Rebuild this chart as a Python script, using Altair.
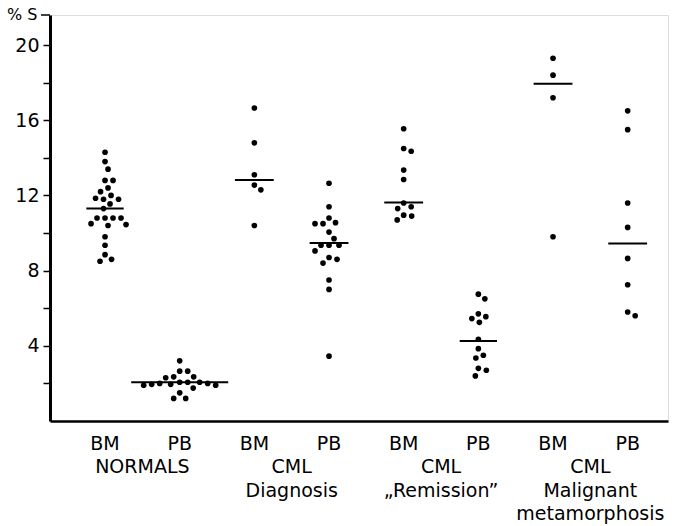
import altair as alt
import pandas as pd

# ---- data (% S) ----
columns = ["NORMALS BM", "NORMALS PB", "Diagnosis BM", "Diagnosis PB",
           "Remission BM", "Remission PB", "Malignant BM", "Malignant PB"]
sub_labels = ["BM", "PB", "BM", "PB", "BM", "PB", "BM", "PB"]
group_labels = ["NORMALS", "CML\nDiagnosis", "CML\n\u201eRemission\u201d", "CML\nMalignant\nmetamorphosis"]

normals_bm = [14.3, 13.8, 13.4, 12.8, 12.8, 12.4, 12.2, 12.0, 11.85, 11.8, 11.8, 11.55, 11.3,
              10.8, 10.8, 10.8, 10.8, 10.5, 10.4, 10.45, 9.8, 9.35, 8.85, 8.5, 8.6]
normals_pb = [3.2, 2.65, 2.65, 2.35, 2.35, 2.3, 2.06, 2.06, 2.06, 2.0, 2.0, 1.95, 1.95,
              1.9, 1.9, 1.9, 1.85, 1.85, 1.85, 1.8, 1.75, 1.7, 1.5, 1.2, 1.2]
diag_bm = [16.65, 14.8, 13.1, 12.55, 12.3, 10.4]
diag_pb = [12.65, 11.4, 10.8, 10.5, 10.55, 10.5, 10.05, 9.7, 9.35, 9.35, 9.35, 9.05,
           8.7, 8.6, 8.4, 7.5, 7.0, 3.45]
rem_bm = [15.55, 14.5, 14.35, 13.35, 12.85, 11.6, 11.4, 11.3, 10.95, 10.9, 10.7]
rem_pb = [6.75, 6.5, 5.7, 5.55, 5.45, 5.25, 4.35, 3.85, 3.5, 3.35, 2.8, 2.7, 2.4]
mal_bm = [19.3, 18.4, 17.2, 9.8]
mal_pb = [16.5, 15.5, 11.6, 10.3, 8.65, 7.25, 5.8, 5.6]

mean_lines = [11.31, 2.06, 12.82, 9.47, 11.63, 4.26, 17.94, 9.45]
mean_halfwidth = [0.25, 0.65, 0.26, 0.26, 0.26, 0.25, 0.26, 0.26]

series = [normals_bm, normals_pb, diag_bm, diag_pb, rem_bm, rem_pb, mal_bm, mal_pb]

# ---- layout ----
W, H = 618, 406
XMIN, XMAX = 0.263, 8.54
YMIN, YMAX = 0.0, 21.6
px_x = W / (XMAX - XMIN)
px_y = H / (YMAX - YMIN)
DOT_D = 8.0  # collision distance in px

# simple beeswarm placement
rows = []
for i, vals in enumerate(series):
    placed = []  # (dx_px, y_px)
    for v in sorted(vals, reverse=True):
        ypx = v * px_y
        cand = [0.0]
        for k in range(1, 80):
            cand += [k * 0.5, -k * 0.5]
        for dx in cand:
            ok = all((dx - px) ** 2 + (ypx - py) ** 2 >= DOT_D ** 2 for px, py in placed)
            if ok:
                placed.append((dx, ypx))
                rows.append({"col": columns[i], "x": i + 1 + dx / px_x, "v": v})
                break
dots = pd.DataFrame(rows)

means = pd.DataFrame({
    "col": columns,
    "x1": [i + 1 - h for i, h in enumerate(mean_halfwidth)],
    "x2": [i + 1 + h for i, h in enumerate(mean_halfwidth)],
    "m": mean_lines,
})

subs = pd.DataFrame({"x": [i + 1 for i in range(8)], "t": sub_labels})
groups = pd.DataFrame({"x": [1.5, 3.5, 5.5, 7.5], "t": group_labels})

FONT = "DejaVu Sans"

xs = alt.Scale(domain=[XMIN, XMAX], nice=False, zero=False)
ys = alt.Scale(domain=[YMIN, YMAX], nice=False, zero=True)

base_x = alt.X("x:Q", scale=xs,
               axis=alt.Axis(title=None, labels=False, ticks=False, grid=False,
                             domainColor="black", domainWidth=2.5))
base_y = alt.Y("v:Q", scale=ys,
               axis=alt.Axis(title=None, values=[2, 4, 6, 8, 10, 12, 14, 16, 18, 20],
                             labelExpr="datum.value % 4 == 0 ? datum.value : ''",
                             grid=False, domainColor="black", domainWidth=3,
                             tickColor="black", tickWidth=1.5, tickSize=7,
                             labelFont=FONT, labelFontSize=19, labelColor="black",
                             labelPadding=4))

pts = alt.Chart(dots).mark_circle(size=32, color="black", opacity=1).encode(
    x=base_x, y=base_y)

rules = alt.Chart(means).mark_rule(color="black", strokeWidth=2).encode(
    x=alt.X("x1:Q", scale=xs), x2="x2:Q", y=alt.Y("m:Q", scale=ys))

sub_txt = alt.Chart(subs).mark_text(font=FONT, fontSize=19, color="black",
                                    baseline="middle", align="center").encode(
    x=alt.X("x:Q", scale=xs), y=alt.value(H + 23), text="t:N")

grp_txt = alt.Chart(groups).mark_text(font=FONT, fontSize=19, color="black",
                                      baseline="top", align="center",
                                      lineBreak="\n", lineHeight=23.5).encode(
    x=alt.X("x:Q", scale=xs), y=alt.value(H + 37), text="t:N")

pct = alt.Chart(pd.DataFrame({"t": ["% S"]})).mark_text(
    font=FONT, fontSize=16, color="black", align="left", baseline="middle").encode(
    x=alt.value(-43), y=alt.value(0), text="t:N")

topext = alt.Chart(pd.DataFrame({"a": [0]})).mark_rule(color="black", strokeWidth=1.5).encode(
    x=alt.value(-9), x2=alt.value(0), y=alt.value(0))

chart = alt.layer(pts, rules, sub_txt, grp_txt, pct, topext).properties(
    width=W, height=H,
    autosize=alt.AutoSizeParams(type="none"),
    padding={"left": 50, "top": 15, "right": 7, "bottom": 105},
).configure_view(stroke="black", strokeWidth=1.5).configure(background="white")

chart.save("out.html", embed_options={"renderer": "svg", "actions": False})
